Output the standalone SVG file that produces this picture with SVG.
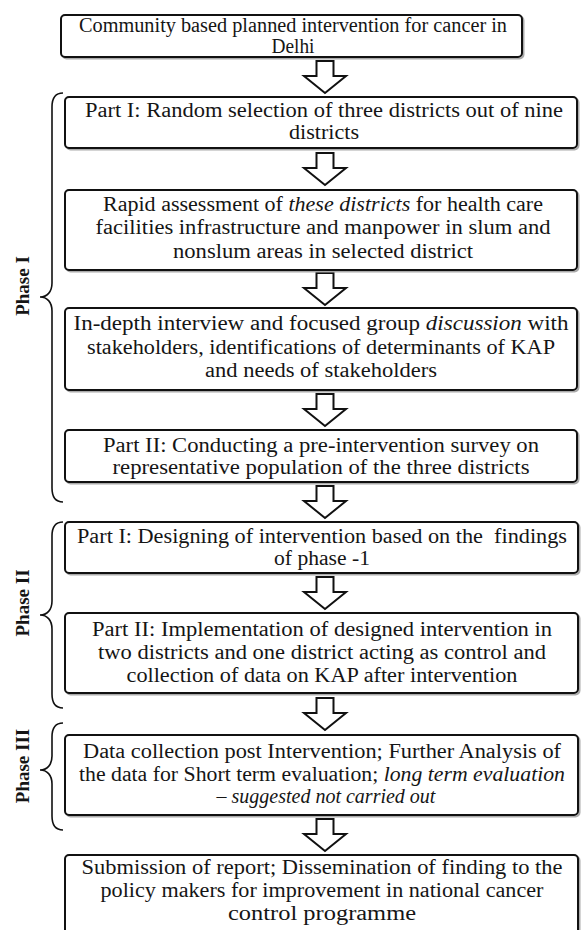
<svg xmlns="http://www.w3.org/2000/svg" width="584" height="930" viewBox="0 0 584 930">
<defs>
<style>
.box{fill:#fff;stroke:#111;stroke-width:2}
.sh{fill:none;stroke:#aaa;stroke-width:2}
.t{font-family:"Liberation Serif","Times New Roman",serif;font-size:20px;fill:#151515;text-anchor:middle}
.i{font-style:italic}
.ph{font-family:"Liberation Serif","Times New Roman",serif;font-size:19px;font-weight:bold;fill:#151515;text-anchor:middle}
.arrow{fill:#fff;stroke:#111;stroke-width:2;stroke-linejoin:miter}
.brace{fill:none;stroke:#111;stroke-width:1.6}
</style>
<path id="arr" d="M-8.5,0 H8.5 V15 H21 L0,32 L-21,15 H-8.5 Z"/>
</defs>
<rect x="0" y="0" width="584" height="930" fill="#fff"/>

<g id="connectors">
<use href="#arr" class="arrow" x="325" y="61"/>
<use href="#arr" class="arrow" x="325" y="153"/>
<use href="#arr" class="arrow" x="325" y="273"/>
<use href="#arr" class="arrow" x="325" y="394"/>
<use href="#arr" class="arrow" x="325" y="486"/>
<use href="#arr" class="arrow" x="325" y="577"/>
<use href="#arr" class="arrow" x="325" y="698"/>
<use href="#arr" class="arrow" x="325" y="819"/>
</g>

<g id="brace1">
<path class="brace" d="M63,93 C56,93 52,97 52,107 V283 C52,292 47,297 40,297 C47,297 52,302 52,311 V488 C52,498 56,502 63,502"/>
<text class="ph" transform="translate(29,286) rotate(-90)">Phase I</text>
</g>
<g id="brace2">
<path class="brace" d="M63,522 C56,522 52,526 52,536 V601 C52,610 47,615 40,615 C47,615 52,620 52,629 V694 C52,704 56,708 63,708"/>
<text class="ph" transform="translate(29,603) rotate(-90)">Phase II</text>
</g>
<g id="brace3">
<path class="brace" d="M63,723 C56,723 52,727 52,737 V756 C52,765 47,770 40,770 C47,770 52,775 52,784 V816 C52,826 56,830 63,830"/>
<text class="ph" transform="translate(29,766) rotate(-90)">Phase III</text>
</g>

<g id="n1">
<rect class="sh" x="62.5" y="16.5" width="461" height="42" rx="4"/>
<rect class="box" x="61" y="15" width="461" height="42" rx="4"/>
<text class="t" x="293" y="32" textLength="428" lengthAdjust="spacingAndGlyphs">Community based planned intervention for cancer in</text>
<text class="t" x="293" y="53" textLength="43" lengthAdjust="spacingAndGlyphs">Delhi</text>
</g>
<g id="n2">
<rect class="sh" x="66.5" y="98.5" width="512" height="51" rx="4"/>
<rect class="box" x="65" y="97" width="512" height="51" rx="4"/>
<text class="t" x="324" y="117" textLength="478" lengthAdjust="spacingAndGlyphs">Part I: Random selection of three districts out of nine</text>
<text class="t" x="324" y="139" textLength="70" lengthAdjust="spacingAndGlyphs">districts</text>
</g>
<g id="n3">
<rect class="sh" x="66.5" y="191.5" width="512" height="80" rx="4"/>
<rect class="box" x="65" y="190" width="512" height="80" rx="4"/>
<text class="t" x="323" y="211" textLength="440" lengthAdjust="spacingAndGlyphs">Rapid assessment of <tspan class="i">these districts</tspan> for health care</text>
<text class="t" x="323" y="234" textLength="455" lengthAdjust="spacingAndGlyphs">facilities infrastructure and manpower in slum and</text>
<text class="t" x="323" y="258" textLength="300" lengthAdjust="spacingAndGlyphs">nonslum areas in selected district</text>
</g>
<g id="n4">
<rect class="sh" x="66.5" y="309.5" width="512" height="82" rx="4"/>
<rect class="box" x="65" y="308" width="512" height="82" rx="4"/>
<text class="t" x="321" y="330" textLength="495" lengthAdjust="spacingAndGlyphs">In-depth interview and focused group <tspan class="i">discussion</tspan> with</text>
<text class="t" x="321" y="354" textLength="468" lengthAdjust="spacingAndGlyphs">stakeholders, identifications of determinants of KAP</text>
<text class="t" x="321" y="377" textLength="232" lengthAdjust="spacingAndGlyphs">and needs of stakeholders</text>
</g>
<g id="n5">
<rect class="sh" x="66.5" y="431.5" width="512" height="52" rx="4"/>
<rect class="box" x="65" y="430" width="512" height="52" rx="4"/>
<text class="t" x="321" y="452" textLength="436" lengthAdjust="spacingAndGlyphs">Part II: Conducting a pre-intervention survey on</text>
<text class="t" x="321" y="474" textLength="417" lengthAdjust="spacingAndGlyphs">representative population of the three districts</text>
</g>
<g id="n6">
<rect class="sh" x="66.5" y="523.5" width="513" height="51" rx="4"/>
<rect class="box" x="65" y="522" width="513" height="51" rx="4"/>
<text class="t" x="322" y="543" xml:space="preserve" textLength="490" lengthAdjust="spacingAndGlyphs">Part I: Designing of intervention based on the  findings</text>
<text class="t" x="322" y="565" textLength="96" lengthAdjust="spacingAndGlyphs">of phase -1</text>
</g>
<g id="n7">
<rect class="sh" x="66.5" y="614.5" width="513" height="80" rx="4"/>
<rect class="box" x="65" y="613" width="513" height="80" rx="4"/>
<text class="t" x="322" y="636" textLength="460" lengthAdjust="spacingAndGlyphs">Part II: Implementation of designed intervention in</text>
<text class="t" x="322" y="659" textLength="448" lengthAdjust="spacingAndGlyphs">two districts and one district acting as control and</text>
<text class="t" x="322" y="682" textLength="391" lengthAdjust="spacingAndGlyphs">collection of data on KAP after intervention</text>
</g>
<g id="n8">
<rect class="sh" x="66.5" y="736.5" width="513" height="80" rx="4"/>
<rect class="box" x="65" y="735" width="513" height="80" rx="4"/>
<text class="t" x="322" y="758" textLength="478" lengthAdjust="spacingAndGlyphs">Data collection post Intervention; Further Analysis of</text>
<text class="t" x="322" y="781" textLength="486" lengthAdjust="spacingAndGlyphs">the data for Short term evaluation; <tspan class="i">long term evaluation</tspan></text>
<text class="t i" x="326" y="803">– suggested not carried out</text>
</g>
<g id="n9">
<rect class="sh" x="66.5" y="856.5" width="513" height="85" rx="4"/>
<rect class="box" x="65" y="855" width="513" height="85" rx="4"/>
<text class="t" x="322" y="874" textLength="481" lengthAdjust="spacingAndGlyphs">Submission of report; Dissemination of finding to the</text>
<text class="t" x="322" y="897" textLength="443" lengthAdjust="spacingAndGlyphs">policy makers for improvement in national cancer</text>
<text class="t" x="322" y="920" textLength="188" lengthAdjust="spacingAndGlyphs">control programme</text>
</g>
</svg>
